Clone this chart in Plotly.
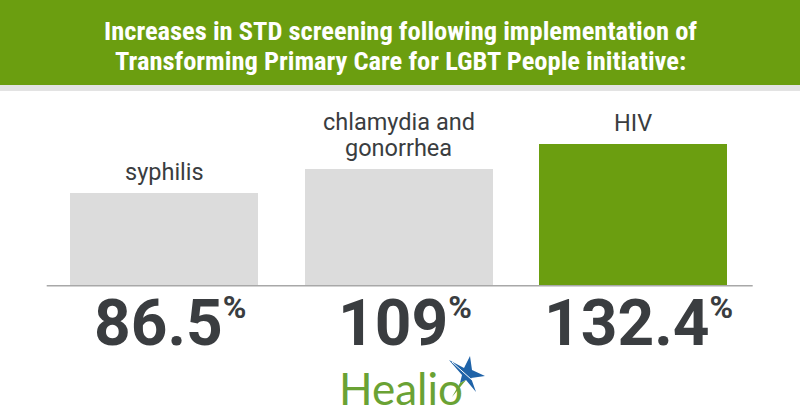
import plotly.graph_objects as go

# ---- data ----
categories = ["syphilis", "chlamydia and<br>gonorrhea", "HIV"]
values = [86.5, 109, 132.4]
value_labels = ["86.5", "109", "132.4"]
bar_colors = ["#dcdcdc", "#dcdcdc", "#6b9e10"]
title_lines = ["Increases in STD screening following implementation of",
               "Transforming Primary Care for LGBT People initiative:"]

W, H = 800, 420
def px(x):
    return x / W
def py(y):
    return 1 - y / H

x_pos = list(range(len(categories)))

fig = go.Figure()
fig.add_trace(go.Bar(
    x=x_pos, y=values, width=0.803,
    marker=dict(color=bar_colors, line=dict(width=0)),
    hoverinfo="skip", showlegend=False,
))

DARK = "#3a3d40"
ann = []
# header title, one annotation per line
for k, tl in enumerate(title_lines):
    ann.append(dict(xref="paper", yref="paper", x=0.5, y=py(30.5 + 30 * k), xanchor="center", yanchor="middle",
                    text=tl, showarrow=False,
                    font=dict(family="Roboto Condensed, Liberation Sans Narrow, Roboto", size=26.5,
                              color="white", weight="bold")))
# category labels (each line placed separately for tighter line spacing)
for i, (c, v) in enumerate(zip(categories, values)):
    lines = c.split("<br>")
    n = len(lines)
    for k, ln in enumerate(lines):
        ann.append(dict(xref="x", yref="y", x=i, y=v, xanchor="center", yanchor="bottom",
                        text=ln, showarrow=False, yshift=5 + (n - 1 - k) * 26,
                        font=dict(family="Roboto", size=23.5, color=DARK)))
# big numbers
for i, lab in enumerate(value_labels):
    ann.append(dict(xref="x", yref="paper", x=i, y=py(323), xanchor="center", yanchor="middle",
                    text=lab + "<sup><span style='font-size:32px'>%</span></sup>",
                    showarrow=False, xshift=6,
                    font=dict(family="Roboto", size=64, color=DARK, weight="bold")))
# logo text
ann.append(dict(xref="paper", yref="paper", x=px(401), y=py(388), xanchor="center", yanchor="middle",
                text="Healio", showarrow=False,
                font=dict(family="Lato, Open Sans", size=44, color="#6aa234")))

shapes = []
# green header band
shapes.append(dict(type="rect", xref="paper", yref="paper", x0=0, x1=1, y0=py(85), y1=1,
                   fillcolor="#6b9e10", line=dict(width=0), layer="below"))
# grey strip under header
shapes.append(dict(type="rect", xref="paper", yref="paper", x0=0, x1=1, y0=py(91), y1=py(85),
                   fillcolor="#e3e3e3", line=dict(width=0), layer="below"))
# baseline
shapes.append(dict(type="line", xref="paper", yref="y", x0=px(46.7), x1=px(752.7), y0=0, y1=0,
                   line=dict(color="#a8a8a8", width=1.5)))

def path(pts):
    return "M " + " L ".join(f"{px(x):.5f},{py(y):.5f}" for x, y in pts) + " Z"

# logo star (blue) and green tail
star = [(449, 360), (464, 368), (470, 356), (472, 370), (485, 376), (471, 378), (476, 392),
        (466, 380), (460, 383), (462, 375)]
shapes.append(dict(type="path", xref="paper", yref="paper", path=path(star),
                   fillcolor="#1f63a8", line=dict(width=0)))
tail = [(460, 383), (466, 380), (452, 397)]
shapes.append(dict(type="path", xref="paper", yref="paper", path=path(tail),
                   fillcolor="#6aa234", line=dict(width=0)))
shapes.append(dict(type="line", xref="paper", yref="paper", x0=px(452), y0=py(362), x1=px(482), y1=py(389),
                   line=dict(color="white", width=1)))

fig.update_layout(
    width=W, height=H,
    margin=dict(l=0, r=0, t=0, b=0),
    paper_bgcolor="white", plot_bgcolor="white",
    xaxis=dict(range=[-0.702, 2.7145], visible=False, fixedrange=True),
    yaxis=dict(range=[-125.7, 267.5], visible=False, fixedrange=True),
    annotations=ann, shapes=shapes,
    bargap=0,
)
fig.write_html("out.html", config={"displayModeBar": False})
